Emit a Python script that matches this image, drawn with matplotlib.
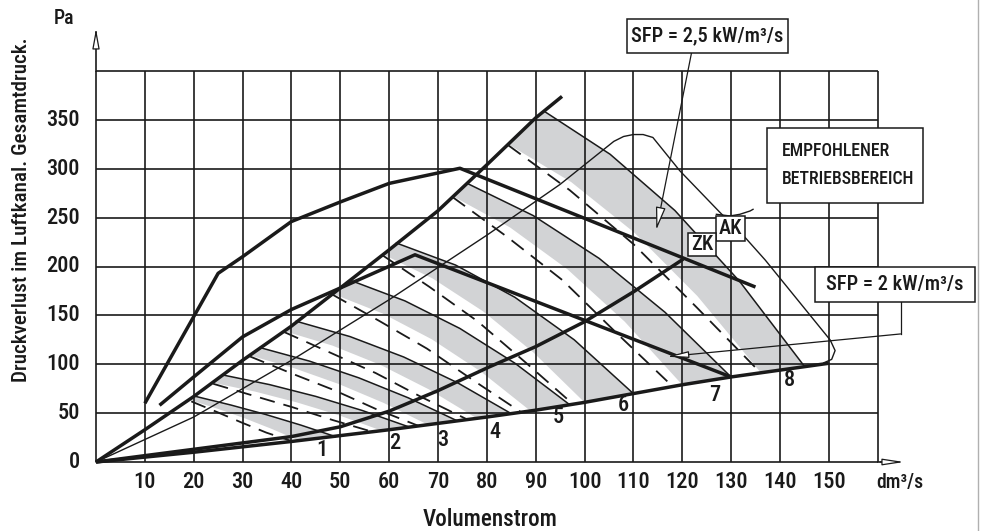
import matplotlib
matplotlib.use("Agg")
import matplotlib.pyplot as plt
from matplotlib import font_manager
from matplotlib.patches import Polygon, Rectangle, FancyArrowPatch

# ---------------- data ----------------
grid_x = [0, 10, 20, 30, 40, 50, 60, 70, 80, 90, 100, 110, 120, 130, 140, 150, 160]
grid_y = [0, 50, 100, 150, 200, 250, 300, 350, 400]
x_tick_labels = [10, 20, 30, 40, 50, 60, 70, 80, 90, 100, 110, 120, 130, 140, 150]
y_tick_labels = [0, 50, 100, 150, 200, 250, 300, 350]
x_title = "Volumenstrom"
y_title = "Druckverlust im Luftkanal. Gesamtdruck."

# system curves (thick)
ak_x = [0, 10, 20, 30, 40, 50, 60, 70, 80, 90, 95.4]
ak_y = [0, 33, 67, 104, 139, 178, 217, 257, 304, 352, 374]
zk_x = [0, 20, 40, 50, 60, 70, 80.6, 90, 100, 110, 120.2]
zk_y = [0, 13, 26, 36, 52, 73, 97.5, 118, 143.5, 174, 207.5]
base_x = [0, 20, 40, 60, 80, 90, 100, 110, 120, 130, 140, 150]
base_y = [0, 10, 21, 33, 46, 53, 61, 70, 79, 87, 94, 101]
curveA_x = [10, 25, 30, 40, 50, 60, 74.5, 135]
curveA_y = [60, 193, 210, 246, 266, 285, 300.5, 179]
curveB_x = [13, 20, 30, 40, 50, 65.3, 130]
curveB_y = [58, 87, 128, 156, 178, 212, 87]

# recommended operating range (thin envelope)
env_x = [0, 20, 40, 60, 80, 95, 103, 106, 108, 110, 112, 114, 119.5, 127.6, 133, 137, 150.3, 151.3, 150.6, 149]
env_y = [0, 46, 104, 166, 232, 284, 316, 328, 333, 335, 335, 332, 298, 256, 229, 206.6, 124.8, 114, 105, 101.5]
hook_x = [127, 129.8, 131.8, 133.9, 134.5]
hook_y = [253.4, 251.7, 253.4, 256.8, 258.5]

# fan curves 1..8 : solid (S), grey lower edge (G), dashed (D)
fan_names = ["1", "2", "3", "4", "5", "6", "7", "8"]
S1 = [(20.5, 67), (27.6, 58.3), (34.75, 48.6), (41.9, 37.8), (49, 26)]
G1 = [(19.5, 63), (25, 54.3), (30.5, 44.6), (36, 33.8), (41.5, 22)]
D1 = [(19.5, 62), (24.6, 51.5), (29.75, 40.5), (34.9, 30), (40, 21.5)]
S2 = [(26, 89), (35.5, 79.2), (45, 67.1), (54.5, 52.7), (64, 36)]
G2 = [(24, 81), (32.6, 72), (41.25, 60.8), (49.9, 47.5), (58.5, 32)]
D2 = [(24, 80), (32.1, 68), (40.25, 56), (48.4, 43), (56.5, 31)]
S3 = [(33.6, 117), (43.7, 103.2), (53.8, 86.1), (63.9, 65.7), (74, 42)]
G3 = [(31.5, 109), (40.6, 95.9), (49.75, 79.7), (58.9, 60.4), (68, 38)]
D3 = [(31.5, 108), (40.1, 90.5), (48.75, 73.5), (57.4, 54), (66, 37)]
S4 = [(41, 144), (52, 128.3), (63, 107.4), (74, 81.1), (85, 49.5)]
G4 = [(38.5, 134), (48.4, 119.1), (58.25, 99.3), (68.1, 74.4), (78, 44.5)]
D4 = [(38.5, 133), (47.9, 112), (57.25, 91), (66.6, 66.5), (76, 43.5)]
S5 = [(52, 186), (63.25, 164.8), (74.5, 136.6), (85.75, 101.1), (97, 58.5)]
G5 = [(48.5, 172), (58.6, 152.1), (68.75, 125.5), (78.9, 92.1), (89, 52)]
D5 = [(48.5, 171), (58.1, 144), (67.75, 116), (77.4, 83), (87, 51)]
S6 = [(61.5, 224), (73.6, 201.5), (85.75, 168.5), (97.9, 125), (110, 70)]
G6 = [(58.5, 213), (68.9, 187.8), (79.25, 154.1), (89.6, 111.8), (100, 61)]
D6 = [(58.5, 212), (68.3, 179), (78.1, 144), (87.9, 102), (97.7, 59)]
S7 = [(76, 285), (89.5, 252.1), (103, 208.3), (116.5, 153.1), (130, 87)]
G7 = [(73, 272), (84.75, 240), (96.5, 197.2), (108.25, 143.5), (120, 79)]
D7 = [(73, 271), (84.25, 230), (95.5, 186), (106.75, 131), (118, 77.5)]
S8 = [(92, 358), (105.25, 314.8), (118.5, 257.3), (131.75, 184.8), (145, 98)]
G8 = [(84.4, 325), (97.3, 286.3), (110.2, 234.7), (123.1, 169.8), (136, 92)]
D8 = [(84.4, 324), (97, 278), (110, 223), (123, 158), (136, 91.5)]
fan_label_x = [46.2, 61.1, 71.0, 81.7, 94.6, 107.9, 126.7, 142.0]
fan_label_y = [12.3, 19.1, 22.5, 31.0, 46.4, 58.3, 68.5, 83.9]

sfp25_text = "SFP = 2,5 kW/m³/s"
sfp2_text = "SFP = 2 kW/m³/s"
range_text = ["EMPFOHLENER", "BETRIEBSBEREICH"]

# ---------------- fonts ----------------
entries = font_manager.fontManager.ttflist
names = {f.name for f in entries}
STRETCH = "normal"
if "Liberation Sans Narrow" in names:
    FAM, K = ["Liberation Sans Narrow", "DejaVu Sans"], 1.0
elif "Roboto Condensed" in names:
    FAM, K = ["Roboto Condensed", "DejaVu Sans"], 0.95
elif any(f.name == "DejaVu Sans" and str(f.stretch) in ("condensed", "semi-condensed") for f in entries):
    FAM, K, STRETCH = ["DejaVu Sans"], 0.88, "condensed"
else:
    FAM, K = ["DejaVu Sans"], 0.78
plt.rcParams["font.family"] = FAM
plt.rcParams["font.stretch"] = STRETCH


def txt(x, y, s, fs, **kw):
    kw.setdefault("ha", "center")
    kw.setdefault("va", "center")
    ax.text(x, y, s, fontsize=fs * K, fontstretch=STRETCH, fontweight="medium",
            color="#1a1a1a", **kw)


# ---------------- figure ----------------
fig = plt.figure(figsize=(9.81, 5.31), dpi=100)
ax = fig.add_axes([0, 0, 1, 1])
ax.set_xlim(-96 / 4.885, (981 - 96) / 4.885)
ax.set_ylim((462 - 531) / 0.9775, 462 / 0.9775)
ax.axis("off")

INK = "#1a1a1a"
GREY = "#d2d3d5"

# grid
for gx in grid_x:
    ax.plot([gx, gx], [grid_y[0], grid_y[-1]], color=INK, lw=1.2, zorder=2, solid_capstyle="butt")
for gy in grid_y:
    ax.plot([grid_x[0], grid_x[-1]], [gy, gy], color=INK, lw=1.2, zorder=2, solid_capstyle="butt")

# grey bands, solid and dashed fan curves
fans = [(S1, G1, D1), (S2, G2, D2), (S3, G3, D3), (S4, G4, D4),
        (S5, G5, D5), (S6, G6, D6), (S7, G7, D7), (S8, G8, D8)]
for S, G, D in fans:
    ax.add_patch(Polygon(S + G[::-1], closed=True, fc=GREY, ec="none", zorder=1))
    ax.plot([p[0] for p in S], [p[1] for p in S], color=INK, lw=1.1, zorder=3)
    ax.plot([p[0] for p in D], [p[1] for p in D], color=INK, lw=1.3, zorder=3,
            dashes=(8.5, 5))

# thin envelope
ax.plot(env_x, env_y, color=INK, lw=1.0, zorder=3)
ax.plot(hook_x, hook_y, color=INK, lw=1.0, zorder=3)

# thick system / fan curves
for xs, ys in [(ak_x, ak_y), (zk_x, zk_y), (base_x, base_y), (curveA_x, curveA_y), (curveB_x, curveB_y)]:
    ax.plot(xs, ys, color=INK, lw=2.5, zorder=4, solid_joinstyle="round", solid_capstyle="butt")

# axis arrows
ax.plot([0, 0], [400, 440], color=INK, lw=1.2, zorder=4)
ax.add_patch(FancyArrowPatch((0, 425), (0, 446), arrowstyle="-|>,head_length=1.2,head_width=0.22",
                             mutation_scale=10, fc="white", ec=INK, lw=0.9, zorder=5))
ax.plot([160, 163], [0, 0], color=INK, lw=1.2, zorder=4)
ax.add_patch(FancyArrowPatch((160, 0), (166, 0), arrowstyle="-|>,head_length=1.3,head_width=0.2",
                             mutation_scale=10, fc="white", ec=INK, lw=0.9, zorder=5))

# SFP leaders
ax.add_patch(FancyArrowPatch((121.9, 418.4), (114.7, 237.4), arrowstyle="-|>,head_length=1.4,head_width=0.3",
                             mutation_scale=10, fc="white", ec=INK, lw=0.9, zorder=5, shrinkA=0, shrinkB=0))
ax.plot([164.7, 164.7], [164, 131], color=INK, lw=0.9, zorder=5)
ax.add_patch(FancyArrowPatch((164.7, 131), (116.8, 107.7), arrowstyle="-|>,head_length=1.3,head_width=0.2",
                             mutation_scale=10, fc="white", ec=INK, lw=0.9, zorder=5, shrinkA=0, shrinkB=0))

# boxes
def box(x0, y0, x1, y1, lw=1.1):
    ax.add_patch(Rectangle((x0, y0), x1 - x0, y1 - y0, fc="white", ec=INK, lw=lw, zorder=6))

box(108.8, 418.4, 141.6, 453.4)
txt(125.2, 435.9, sfp25_text, 15.5, zorder=7)
box(137.4, 265.3, 169.2, 341.2)
txt(140.4, 318.4, range_text[0], 13.5, ha="left", zorder=7)
txt(140.4, 289.6, range_text[1], 13.5, ha="left", zorder=7)
box(147.2, 164, 180, 199.8)
txt(163.6, 181.9, sfp2_text, 15.5, zorder=7)
box(127, 226.1, 132.8, 251.7)
txt(129.9, 238.9, "AK", 15.5, zorder=7)
box(121.2, 210.8, 127, 234.7)
txt(124.1, 222.7, "ZK", 15.5, zorder=7)

# fan numbers
for name, lx, ly in zip(fan_names, fan_label_x, fan_label_y):
    txt(lx, ly, name, 17, zorder=7)

# tick labels
for v in x_tick_labels:
    txt(v, -20.5, str(v), 17)
for v in y_tick_labels:
    txt(-3.3, v, str(v), 17, ha="right")
txt(-6.55, 453.9, "Pa", 15)
txt(164.5, -20.5, "dm³/s", 15)
txt(80.65, -59.3, x_title, 17.5)
txt(-15.2, 258.5, y_title, 16, rotation=90)

# page border at the right
ax.plot([180.65, 180.65], [-70.6, 472.6], color="#b0b0b0", lw=1.0, zorder=1)

fig.savefig("out.png", dpi=100)
